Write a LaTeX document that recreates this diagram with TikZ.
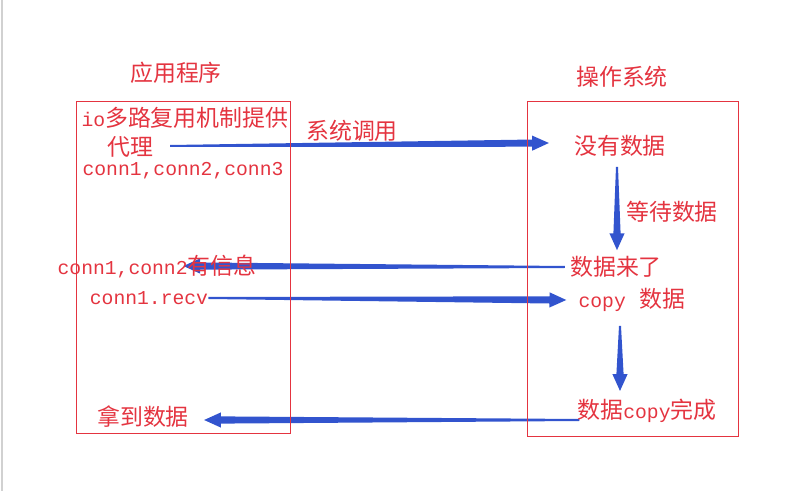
\documentclass[tikz,border=0pt]{standalone}
\usepackage{fontspec}
\setmainfont{Noto Sans CJK SC}
\newfontfamily\lmono{Liberation Mono}
\usepackage{tikz}
\usetikzlibrary{calc, positioning}
\definecolor{txtred}{RGB}{228,52,64}
\definecolor{flowblue}{RGB}{50,84,206}
\pgfdeclarelayer{bg}
\pgfsetlayers{bg,main}
\newcommand{\en}[1]{{\lmono\fontsize{14}{18}\selectfont #1}}
% tapered arrow: from #1 to #2
\newcommand{\taperarrow}[2]{%
  \coordinate (ta-s) at #1;
  \coordinate (ta-e) at #2;
  \coordinate (ta-h) at ($(ta-e)!0.42cm!(ta-s)$);
  \fill[flowblue] ($(ta-s)!0.025cm!90:(ta-e)$) -- ($(ta-h)!0.09cm!90:(ta-e)$)
    -- ($(ta-h)!0.19cm!90:(ta-e)$) -- (ta-e) -- ($(ta-h)!0.19cm!-90:(ta-e)$)
    -- ($(ta-h)!0.09cm!-90:(ta-e)$) -- ($(ta-s)!0.025cm!-90:(ta-e)$) -- cycle;
}
\tikzset{
  lbl/.style={text=txtred, inner sep=0pt, font=\fontsize{16.3}{18}\selectfont},
  panel/.style={draw=txtred, line width=0.6pt},
}
\begin{document}
\begin{tikzpicture}[x=0.025cm, y=-0.025cm]
  \useasboundingbox (0,0) rectangle (811,491);
  \draw[black!18, line width=0.8pt] (2,0) -- (2,491); % 左端
  % 枠
  \draw[panel] (76,101) rectangle (290,433);
  \draw[panel] (527,101) rectangle (738,436);
  % 見出し
  \node[lbl] (app) at (176,73) {应用程序};
  \node[lbl] (os) at (622,77) {操作系统};
  % 左側
  \node[lbl] (proxy) at (185,118) {\en{io}多路复用机制提供};
  \node[lbl] (dai) at (130,147) {代理};
  \node[lbl] (conns) at (183,171) {\en{conn1,conn2,conn3}};
  \node[lbl] (youxin) at (157,267) {\en{conn1,conn2}有信息};
  \node[lbl] (recv) at (149,298) {\en{conn1.recv}};
  \node[lbl] (nadao) at (143,417) {拿到数据};
  % 右側
  \node[lbl] (mei) at (620,146) {没有数据};
  \node[lbl] (deng) at (672,212) {等待数据};
  \node[lbl] (lai) at (616,267) {数据来了};
  \node[lbl] (copy) at (632,300) {\en{copy}\hspace{0.6em}数据};
  \node[lbl] (done) at (647,411) {数据\en{copy}完成};
  \node[lbl] (call) at (352,131) {系统调用};
  % 矢印
  \begin{pgfonlayer}{bg}
  \taperarrow{($(dai.east)+(17,-1)$)}{($(mei.west)+(-25,-3)$)}
  \taperarrow{($(mei.south)+(-3,10)$)}{($(lai.north)+(1,-6)$)}
  \taperarrow{($(lai.west)+(-5,0)$)}{($(youxin.west)+(126,-1)$)}
  \taperarrow{($(recv.east)+(0,0)$)}{($(copy.west)+(-12,0)$)}
  \taperarrow{($(copy.south)+(-12,14)$)}{($(done.north)+(-27,-8)$)}
  \taperarrow{($(done.west)+(2,9)$)}{($(nadao.east)+(15,3)$)}
  \end{pgfonlayer}
\end{tikzpicture}
\end{document}
